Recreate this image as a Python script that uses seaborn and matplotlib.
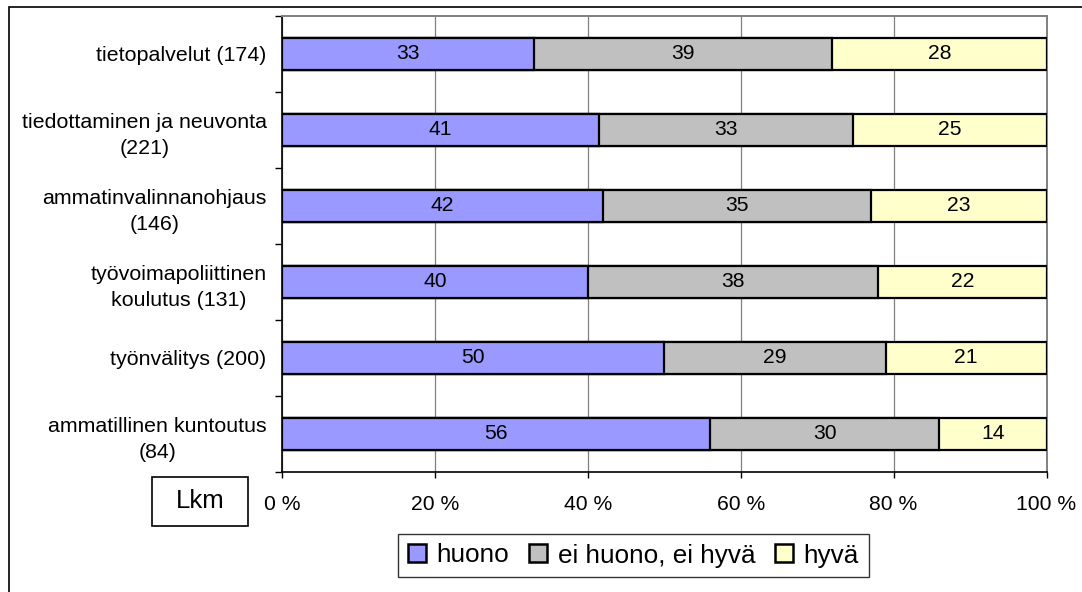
import matplotlib
matplotlib.use("Agg")
import matplotlib.pyplot as plt
from matplotlib.patches import Patch, Rectangle
import numpy as np
import pandas as pd
import seaborn as sns

# Palvelut ja vastaajamäärät
categories = [
    "tietopalvelut (174)",
    "tiedottaminen ja neuvonta\n(221)",
    "ammatinvalinnanohjaus\n(146)",
    "työvoimapoliittinen\nkoulutus (131)",
    "työnvälitys (200)",
    "ammatillinen kuntoutus\n(84)",
]
huono = [33, 41, 42, 40, 50, 56]
ei_huono_ei_hyva = [39, 33, 35, 38, 29, 30]
hyva = [28, 25, 23, 22, 21, 14]

series_names = ["huono", "ei huono, ei hyvä", "hyvä"]
series_colors = ["#9999FF", "#C0C0C0", "#FFFFCC"]
x_ticks = [0, 20, 40, 60, 80, 100]
x_tick_labels = ["0 %", "20 %", "40 %", "60 %", "80 %", "100 %"]

sns.set_style("white")
plt.rcParams["font.family"] = ["Liberation Sans", "DejaVu Sans"]
plt.rcParams["text.color"] = "black"
plt.rcParams["xtick.color"] = "black"
plt.rcParams["ytick.color"] = "black"
plt.rcParams["axes.labelcolor"] = "black"

# 100 % pinottu vaakapylväs: osuudet skaalataan rivin summalla
raw = np.array([huono, ei_huono_ei_hyva, hyva], dtype=float)
share = raw / raw.sum(axis=0) * 100
cum = np.cumsum(share, axis=0)

df = pd.DataFrame({"kategoria": categories})
for i, name in enumerate(series_names):
    df[name] = cum[i]

fig = plt.figure(figsize=(10.82, 5.92), dpi=100)
ax = fig.add_axes([282 / 1082, 1 - 472 / 592, (1046.5 - 282) / 1082, (472 - 15.7) / 592])

# Pisin kertymä piirretään ensin, jotta lyhyemmät jäävät päälle
for i in reversed(range(len(series_names))):
    sns.barplot(data=df, x=series_names[i], y="kategoria", orient="h",
                color=series_colors[i], saturation=1, width=0.42,
                edgecolor="black", linewidth=1.6, ax=ax, zorder=3)

# Arvotekstit segmenttien keskelle
for j in range(len(categories)):
    left = 0.0
    for i in range(len(series_names)):
        ax.text(left + share[i, j] / 2, j, f"{int(raw[i, j])}",
                ha="center", va="center", fontsize=15.2, color="black", zorder=5)
        left += share[i, j]

ax.set_xlim(0, 100)
ax.set_ylim(len(categories) - 0.5, -0.5)
ax.set_xlabel("")
ax.set_ylabel("")

ax.set_xticks(x_ticks)
ax.set_xticklabels(x_tick_labels, fontsize=15.2, color="black")
ax.set_yticks(range(len(categories)))
ax.set_yticklabels(categories, fontsize=15.4, color="black",
                   multialignment="center", linespacing=1.5)
ax.set_yticks(np.arange(-0.5, len(categories), 1.0), minor=True)

ax.tick_params(axis="y", which="major", length=0, pad=11)
ax.tick_params(axis="y", which="minor", length=5, width=1.0, color="black", direction="out", left=True)
ax.tick_params(axis="x", which="major", length=4.5, width=1.0, color="black", direction="out", bottom=True, pad=12)

ax.xaxis.grid(True, color="#808080", linewidth=0.9)
ax.yaxis.grid(False)
ax.set_axisbelow(True)

for side in ("left", "bottom"):
    ax.spines[side].set_color("black")
    ax.spines[side].set_linewidth(1.2)
for side in ("top", "right"):
    ax.spines[side].set_visible(True)
    ax.spines[side].set_color("#808080")
    ax.spines[side].set_linewidth(1.4)

# Selite
handles = [Patch(facecolor=c, edgecolor="black", linewidth=1.8) for c in series_colors]
leg = fig.legend(handles, series_names, loc="center",
                 bbox_to_anchor=(633.5 / 1082, 1 - 555.5 / 592),
                 ncol=3, fontsize=18.8, frameon=True, fancybox=False,
                 handlelength=0.68, handleheight=0.68, handletextpad=0.42,
                 columnspacing=0.75, borderpad=0.38, borderaxespad=0)
leg.get_frame().set_edgecolor("black")
leg.get_frame().set_linewidth(1.0)

# "Lkm"-ruutu
fig.patches.append(Rectangle((152 / 1082, 1 - 526 / 592), 96 / 1082, 49 / 592,
                             transform=fig.transFigure, fill=False,
                             edgecolor="black", linewidth=1.2))
fig.text(200 / 1082, 1 - 501.5 / 592, "Lkm", ha="center", va="center", fontsize=18.5)

# Kaavioalueen reunus
fig.patches.append(Rectangle((9 / 1082, -0.1), 1.2, 1 - 7 / 592 + 0.1,
                             transform=fig.transFigure, fill=False,
                             edgecolor="black", linewidth=1.2))

fig.savefig("out.png", dpi=100, facecolor="white")
